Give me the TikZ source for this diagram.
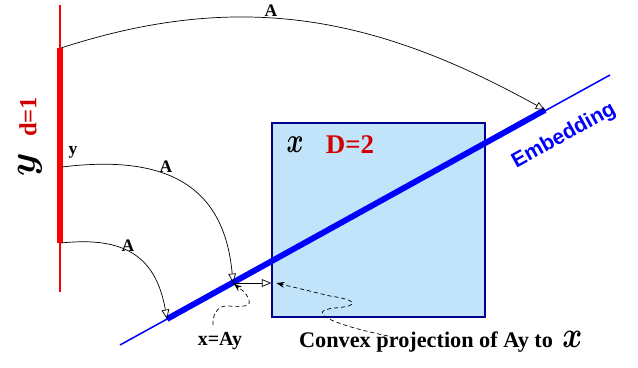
\documentclass[tikz,border=0pt]{standalone}
\usepackage{fontspec}
\setmainfont{Liberation Serif}
\setsansfont{Liberation Sans}
\usepackage{amsmath}
\usepackage{graphicx}
\usetikzlibrary{arrows.meta, calc}

\definecolor{regionfill}{RGB}{194,228,250}
\definecolor{regionline}{RGB}{0,0,140}
\definecolor{dimred}{RGB}{210,0,0}

\begin{document}
\begin{tikzpicture}[
  x=0.03cm, y=0.03cm,
  >=Stealth,
  lbl/.style={font=\fontsize{15}{18}\selectfont\bfseries, inner sep=1pt},
  dimlbl/.style={font=\fontsize{#1}{#1}\selectfont\bfseries, text=dimred, inner sep=0pt},
  dimlbl/.default={22},
  region/.style={draw=regionline, fill=regionfill, line width=1.2pt,
    minimum width=6.39cm, minimum height=5.82cm, inner sep=0pt},
  mapto/.style={-{Triangle[open, length=8pt, width=6.5pt]}, line width=0.6pt},
  hint/.style={-{Stealth[length=7pt, width=5pt]}, line width=0.6pt,
    dash pattern=on 3.5pt off 2.5pt},
]
\useasboundingbox (0,0) rectangle (638,368);

% --- the space X ---
\node[region] (X) at (378.5,148) {};
\node[inner sep=0pt] (Xsym) at (295,223) {\scalebox{2.2}[3]{$\boldsymbol{x}$}};
\node[dimlbl=23] (Dlbl) at (350,223) {D=2};

% --- latent line y ---
\coordinate (red0) at (60,363);
\coordinate (red1) at (60,76);
\coordinate (ytop) at (61,320);
\coordinate (ymid) at (62,201);
\coordinate (ybot) at (61,125);
\draw[red, line width=1.2pt] (red0) -- (red1);
\draw[red, line width=5pt] (60,320) -- (60,125);
\node[inner sep=0pt, rotate=90] (Ysym) at (30,203) {\scalebox{3.2}{$\boldsymbol{y}$}};
\node[dimlbl=21, rotate=90] (dlbl) at (28,251) {d=1};
\node[lbl] (ylbl) at (73,216) {y};

% --- embedding ---
\coordinate (emb0) at (120,23);
\coordinate (emb1) at (610,293);
\coordinate (thk0) at (167,49);
\coordinate (thk1) at (545,258);
\coordinate (foot) at (233,85);
\coordinate (proj) at (X.west |- foot);
\draw[blue, line width=1.3pt] (emb0) -- (emb1);
\draw[blue, line width=5pt] (thk0) -- (thk1);
\node[font=\fontsize{18}{18}\selectfont\sffamily\bfseries, text=blue, rotate=29]
  (emb) at (564,232) {Embedding};

% --- maps A ---
\draw[mapto] (ytop) to[out=18, in=151] (thk1);
\draw[mapto] (ymid) to[out=7, in=95, looseness=1.25] (foot);
\draw[mapto] (ybot) to[out=6, in=100, looseness=1.25] (thk0);
\node[lbl] (Atop) at (271,357) {A};
\node[lbl] (Amid) at (166,201) {A};
\node[lbl] (Abot) at (128,122) {A};

% projection onto X
\draw[mapto] (foot) -- (proj);

% --- pointers ---
\node[font=\fontsize{17}{17}\selectfont\bfseries] (xay) at (220,27) {x=Ay};
\node[font=\fontsize{19}{19}\selectfont\bfseries, anchor=west] (conv) at (295,26)
  {Convex projection of Ay to\hspace{8pt}\scalebox{1.5}[1.8]{$\boldsymbol{x}$}};
\coordinate (xaytail) at (213,43);
\coordinate (convtail) at (388,32);
\draw[hint, shorten >=1pt] (xaytail) to[out=95, in=180] (226,62)
  to[out=0, in=-70] (249,68) to[out=110, in=-40] (foot);
\draw[hint] (convtail) .. controls (330,44) and (305,57) .. (335,60)
  .. controls (360,62) and (358,68) .. (330,72) -- ($(proj)+(5,0)$);

\end{tikzpicture}
\end{document}
